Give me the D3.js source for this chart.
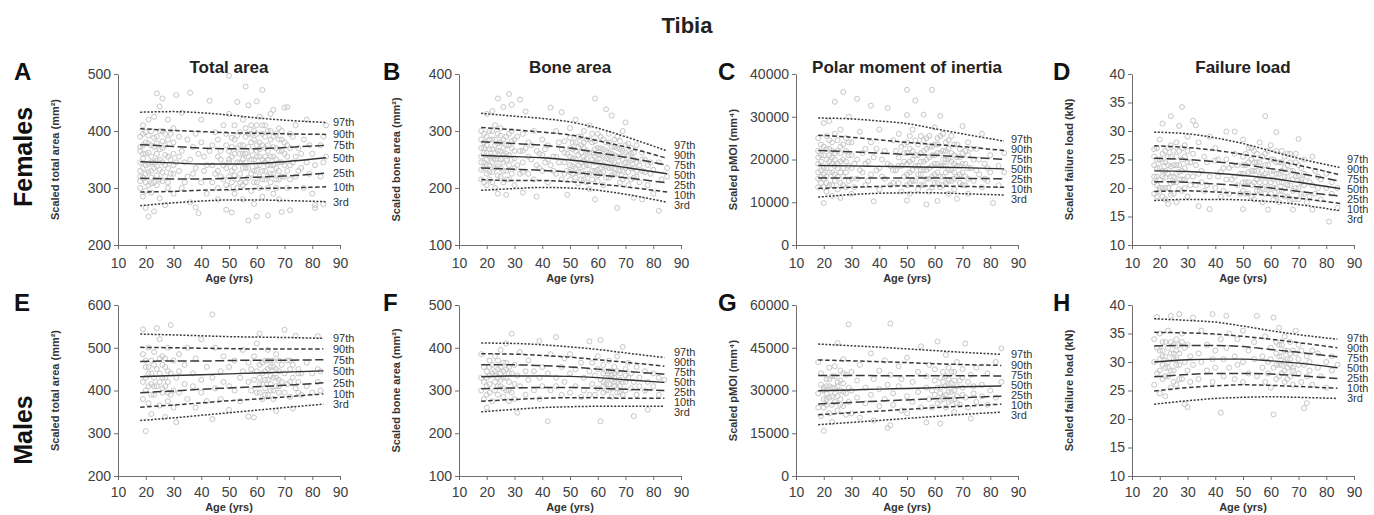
<!DOCTYPE html>
<html>
<head>
<meta charset="utf-8">
<script src="https://cdn.jsdelivr.net/npm/d3@7"></script>
<style>
body { margin: 0; background: #fff; }
svg { display: block; font-family: "Liberation Sans", Arial, sans-serif; }
</style>
</head>
<body>
<svg id="chart" width="1374" height="515"></svg>
<script>
const ageTop = [18, 30, 40, 50, 60, 70, 85];
const ageBottom = [18, 30, 40, 50, 60, 70, 84];
const ageTicks = [10, 20, 30, 40, 50, 60, 70, 80, 90];
const pctLabels = ["97th", "90th", "75th", "50th", "25th", "10th", "3rd"];

// percentile curves (97th .. 3rd)
const femTotalPct = [
  [433, 434, 432, 428, 423, 419, 415],
  [404, 401, 399, 397, 396, 395, 394],
  [376, 373, 370, 369, 369, 371, 375],
  [346, 344, 342, 342, 343, 346, 353],
  [317, 316, 316, 317, 319, 321, 326],
  [293, 294, 296, 297, 299, 300, 302],
  [269, 274, 277, 279, 279, 278, 276]
];
const femBonePct = [
  [331, 326, 322, 316, 305, 290, 265],
  [306, 302, 298, 293, 283, 272, 252],
  [281, 278, 275, 270, 262, 254, 240],
  [257, 255, 253, 249, 243, 236, 225],
  [235, 233, 231, 228, 223, 218, 209],
  [215, 213, 213, 211, 207, 202, 193],
  [196, 199, 201, 200, 196, 189, 175]
];
const femPmoiPct = [
  [29700, 29500, 29000, 28400, 27200, 26000, 24300],
  [25700, 25200, 24600, 24000, 23500, 23000, 22100],
  [22100, 21800, 21500, 21200, 21000, 20600, 20000],
  [18600, 18500, 18400, 18300, 18200, 18100, 17800],
  [15700, 15700, 15700, 15700, 15700, 15600, 15500],
  [13250, 13500, 13700, 13800, 13800, 13700, 13500],
  [11200, 11800, 12100, 12200, 12200, 12000, 11700]
];
const femLoadPct = [
  [29.8, 29.5, 28.8, 27.8, 26.5, 25.2, 23.6],
  [27.4, 27.1, 26.6, 25.9, 25.0, 24.0, 22.3],
  [25.2, 25.0, 24.6, 24.1, 23.4, 22.6, 21.2],
  [23.0, 22.9, 22.6, 22.2, 21.7, 21.0, 19.9],
  [21.1, 21.0, 20.7, 20.4, 20.0, 19.4, 18.6],
  [19.4, 19.5, 19.3, 19.0, 18.7, 18.2, 17.3],
  [17.8, 18.0, 18.0, 17.9, 17.6, 17.1, 16.0]
];
const maleTotalPct = [
  [532, 530, 528, 526, 525, 524, 522],
  [501, 500, 499, 498, 497, 497, 497],
  [468, 469, 469, 470, 471, 471, 472],
  [432, 435, 437, 439, 441, 443, 446],
  [395, 399, 403, 406, 409, 412, 418],
  [361, 366, 371, 376, 380, 385, 392],
  [330, 336, 342, 348, 354, 360, 368]
];
const maleBonePct = [
  [411, 410, 407, 402, 396, 388, 377],
  [386, 385, 382, 378, 372, 366, 357],
  [360, 360, 358, 355, 350, 345, 338],
  [332, 334, 334, 333, 330, 325, 319],
  [304, 306, 307, 307, 305, 303, 300],
  [275, 279, 282, 283, 283, 282, 282],
  [250, 256, 260, 262, 263, 263, 263]
];
const malePmoiPct = [
  [46300, 45700, 45200, 44600, 44000, 43400, 42700],
  [40700, 40400, 40100, 39800, 39400, 39100, 38800],
  [35300, 35300, 35200, 35200, 35200, 35200, 35100],
  [29900, 30200, 30500, 30700, 31000, 31300, 31600],
  [25300, 25800, 26300, 26700, 27100, 27500, 28000],
  [21500, 22200, 22800, 23400, 24000, 24500, 25200],
  [18000, 18800, 19500, 20200, 20900, 21600, 22400]
];
const maleLoadPct = [
  [37.6, 37.3, 37.0, 36.3, 35.5, 34.8, 34.0],
  [35.2, 35.1, 34.9, 34.5, 34.0, 33.4, 32.5],
  [32.8, 32.9, 32.9, 32.7, 32.2, 31.7, 30.9],
  [30.0, 30.4, 30.5, 30.5, 30.2, 29.8, 29.0],
  [27.4, 27.8, 28.0, 28.0, 27.9, 27.6, 27.1],
  [24.9, 25.5, 25.8, 26.0, 25.9, 25.7, 25.4],
  [22.6, 23.2, 23.6, 23.8, 23.9, 23.8, 23.6]
];

// individual subjects, grouped by age: [age, [values]]
const femTotalPts = [
  [18,[390,345,320,300,365]],[19,[410,335,285,375,352]],[20,[265,325,398,360,310]],[21,[250,342,420,305,378]],
  [22,[355,330,292,400,318]],[23,[259,372,345,425]],[24,[466,338,305,360,390]],[25,[443,315,350,282]],
  [26,[457,370,328,400]],[27,[270,395,340]],[28,[355,310,420]],[30,[380,325,290,405]],[31,[463,345]],
  [33,[365,300,432]],[35,[320,385]],[36,[467,350,275]],[38,[266,395,335]],[39,[256,360]],[40,[380,310,420]],
  [42,[340,290]],[43,[453,365]],[45,[325,398]],[46,[300,355,280]],[48,[340,410,315]],[49,[262,375]],
  [50,[497,350,300,430]],[51,[257,330,388]],[52,[360,290,410]],[53,[451,315,345]],[54,[375,325,398]],
  [55,[280,350,420,305]],[56,[478,360,335,390]],[57,[243,445,318,372]],[58,[395,350,295,410]],[59,[330,385,272]],
  [60,[250,452,365,340,410,310]],[61,[380,300,355,425]],[62,[472,330,395,285]],[63,[345,370,410,315]],
  [64,[252,365,340,400,300]],[65,[385,325,355,430]],[66,[437,340,290,372]],[67,[350,395,315]],
  [68,[330,365,280,405]],[69,[258,345,385]],[70,[441,320,360]],[71,[442,300,375]],[72,[261,340,395]],
  [74,[355,320,410]],[75,[330,370]],[77,[385,300]],[78,[345,420]],[80,[290,360]],[81,[265,270,340]],
  [83,[375,320]],[84,[272,390,345]],[85,[410,355]],
  [18,[330,372,312]],[19,[360,318,395]],[20,[340,380,295]],[21,[328,362,392]],[22,[345,375,308]],
  [23,[335,310,388]],[24,[322,348,378]],[25,[368,332,400]],[26,[312,345,382]],[27,[358,320,375]],
  [28,[335,385,300]],[29,[350,325,395]],[30,[360,340]],[32,[330,355,390]],[34,[345,310]],[37,[372,325]],
  [41,[355,330]],[44,[340,310,375]],[46,[330,385]],[47,[350,320,365]],[49,[335,305,395]],[50,[320,365,345]],
  [51,[355,310,372]],[52,[335,385,322]],[53,[370,300,392]],[54,[345,310,360]],[55,[335,375,360]],
  [56,[310,345,405]],[57,[335,355,395]],[58,[325,365,380]],[59,[350,310,400]],[60,[330,375,355,395]],
  [61,[340,320,368]],[62,[350,375,315,410]],[63,[330,355,390]],[64,[320,375,350]],[65,[340,310,400]],
  [66,[355,325,390]],[67,[335,370,300]],[68,[345,385,315]],[69,[320,365,400]],[70,[340,380]],[71,[330,355]],
  [72,[315,370]],[73,[345,390]],[76,[335,360]],[79,[325,375]]
];
const femBonePts = [
  [18,[300,255,232,270]],[19,[280,210,245,262]],[20,[330,225,290,250,205]],[21,[268,240,300,215]],
  [22,[335,255,228,285]],[23,[275,200,250,310]],[24,[357,190,265,238,295]],[25,[280,220,305,250]],
  [26,[342,245,270,210]],[27,[188,290,260,230]],[28,[365,275,215]],[29,[346,300,250]],[30,[235,285,205]],
  [32,[355,265,225]],[33,[192,295,245]],[34,[334,270]],[35,[225,280,255]],[37,[300,215]],[38,[185,265,240]],
  [40,[285,230,258]],[42,[250,210,275]],[43,[341,240]],[45,[300,255,225]],[47,[333,268,215]],[48,[245,282]],
  [49,[188,260,230]],[50,[305,240,270,215]],[51,[280,252,225]],[52,[320,235,265]],[53,[258,208,290]],
  [54,[275,245,228]],[55,[300,255,215,270]],[56,[240,285,225]],[57,[310,262,198]],[58,[250,280,230]],
  [59,[357,180,245,268]],[60,[295,232,258,212]],[61,[270,245,225]],[62,[285,205,255]],[63,[338,238,265]],
  [64,[250,218,280]],[65,[327,235,260]],[66,[272,225,245]],[67,[165,255,290]],[68,[240,210,268]],
  [69,[300,230,250]],[70,[315,220,262]],[71,[245,205,278]],[72,[235,260]],[73,[183,250,218]],[74,[275,230]],
  [75,[240,210]],[76,[180,262]],[77,[228,250]],[78,[205,240]],[80,[190,232]],[82,[160,245]],[83,[215]],[85,[220,235]],
  [18,[245,285,215]],[19,[295,235,270]],[20,[240,275,262]],[21,[255,228,285]],[22,[245,268,210,300]],
  [23,[235,262,285]],[24,[250,222,278]],[25,[265,235,292]],[26,[230,258,285]],[27,[248,275,215]],
  [28,[240,258,295]],[29,[225,270,282]],[30,[252,265]],[31,[240,290]],[33,[265,228]],[36,[250,275]],
  [39,[260,235]],[41,[268,245]],[44,[255,230]],[46,[245,280]],[48,[262,225]],[50,[255,228,288]],
  [51,[238,268]],[52,[250,218,280]],[53,[240,272,228]],[54,[262,215,290]],[55,[238,280,248]],
  [56,[265,210,252]],[57,[240,285,225]],[58,[262,215,295]],[59,[255,230,282]],[60,[245,270,222]],
  [61,[258,235,290]],[62,[240,268,228]],[63,[252,218,280]],[64,[235,262,295]],[65,[248,222,272]],
  [66,[258,235,285]],[67,[240,225,270]],[68,[255,230,282]],[69,[215,265]],[70,[245,235,275]],[71,[228,258]],
  [72,[215,248,270]],[73,[235,262]],[74,[245,220]],[76,[230,250]],[79,[225,245]]
];
const femPmoiPts = [
  [18,[25000,19000,15500,22000]],[19,[21000,14500,17500]],[20,[9800,23000,18000,13500,28500]],
  [21,[20000,16000,25500,12500]],[22,[29000,19500,14000,22500]],[23,[17000,24000,11500,20500]],
  [24,[33500,18500,26000,15000]],[25,[22000,13000,19000]],[26,[11000,27000,17000,21500]],[27,[35800,16000,23500]],
  [28,[19500,13500,25000]],[29,[21000,15000,30000]],[30,[18000,24000,12000]],[32,[34200,20000,15500]],
  [33,[26500,17500]],[35,[22500,14000,19000]],[37,[32600,16500,24000]],[38,[10200,20500]],[40,[27000,18000,13000]],
  [42,[22000,15500]],[43,[32000,19000]],[45,[24500,14500,17500]],[47,[20500,26000]],[48,[12500,18500,23000]],
  [49,[16000,21500]],[50,[36300,30400,10400,19000,14000,24000]],[51,[17000,22500,12000]],[52,[20000,27000,15000]],
  [53,[33800,18500,24500]],[54,[13000,21000,16500]],[55,[25500,19500,14000]],[56,[30500,17500,22000]],
  [57,[9500,20000,25000,15500]],[58,[18000,23000,12500]],[59,[36300,21000,16000]],[60,[27500,19000,14500,23500]],
  [61,[10300,17000,21500,25000]],[62,[30200,18500,13500]],[63,[22000,16000,26000]],[64,[20000,14500,24000]],
  [65,[17500,22500,12000]],[66,[19500,25500,15000]],[67,[21000,13000,17000]],[68,[10800,23500,18500]],
  [69,[16500,20500]],[70,[27800,14000,19000]],[71,[22000,16000]],[72,[12000,18000,24000]],[74,[20000,15000]],
  [75,[17500,22500]],[77,[26000,13500]],[78,[19000,15500]],[80,[21000,17000]],[81,[9800]],[83,[18500,14000]],
  [85,[21500,17000]],
  [18,[17000,20500,13500]],[19,[23500,16000,19500]],[20,[15500,21000,16500]],[21,[18000,22500,14500]],
  [22,[17000,21000,24500]],[23,[14000,19000,22000]],[24,[16500,21500,20000]],[25,[16000,24500,18000]],
  [26,[14500,19500,23000]],[27,[20000,18000,14000]],[28,[17000,22000]],[29,[18500,24000]],[30,[15500,21000]],
  [31,[19000,13500]],[34,[17000,21500]],[36,[19500,15000]],[39,[17500,22500]],[41,[16000,20000]],
  [44,[18500,14000]],[46,[17500,22000]],[47,[14500,18500]],[49,[19500,23500]],[50,[16500,21500]],
  [51,[19500,14500,25500]],[52,[17500,22000]],[53,[15000,21000]],[54,[18500,23500]],[55,[16500,21500,17500]],
  [56,[14000,19500,24500]],[57,[17500,22500]],[58,[15500,20500,25500]],[59,[18500,13500,23000]],
  [60,[16500,21000]],[61,[19000,14500,23500]],[62,[16000,21500,25500]],[63,[18500,14000,20000]],
  [64,[17000,22000,18500]],[65,[15000,20000,24500]],[66,[17500,21500]],[67,[19000,15500,23500]],
  [68,[16000,20500]],[69,[18500,14500,22500]],[70,[17000,21500]],[71,[19000,14000]],[72,[15500,21000]],
  [73,[18000,22500]],[76,[16500,20000]],[79,[18000,15000]]
];
const femLoadPts = [
  [18,[26.8,22.0,19.0,24.0]],[19,[23.5,20.5,18.5]],[20,[28.5,21.5,25.0,19.5]],[21,[31.3,23.0,20.0,26.0]],
  [22,[24.5,18.0,21.8]],[23,[17.2,27.0,22.5]],[24,[32.6,25.5,20.8,23.8]],[25,[22.0,19.0,26.5]],
  [26,[17.5,28.0,24.0,21.0]],[27,[30.9,22.8,19.8]],[28,[34.2,25.0,21.5]],[29,[27.5,20.0,23.5]],
  [30,[29.0,24.5,18.5]],[32,[31.8,22.0,26.0]],[33,[31.0,20.5,24.0]],[34,[16.8,28.0,22.5]],[36,[25.5,19.5]],
  [38,[16.3,29.0,22.0]],[40,[24.8,20.0,27.0]],[42,[22.8,18.5]],[44,[29.9,21.5,25.0]],[45,[23.5,19.0]],
  [47,[29.9,22.0,26.0]],[48,[20.5,24.0]],[50,[16.3,28.5,22.5,19.5,25.5]],[51,[21.0,24.0]],[52,[27.0,19.0,22.8]],
  [53,[25.0,20.5]],[54,[23.0,18.0,26.5]],[55,[21.5,24.5]],[56,[28.0,19.5,22.0]],[57,[25.5,17.5,23.0]],
  [58,[32.6,21.0,24.0]],[59,[16.2,26.5,20.0]],[60,[23.0,19.0,27.5]],[61,[21.5,25.0,18.0]],[62,[29.8,22.5,20.0]],
  [63,[24.5,17.5,21.0]],[64,[26.5,19.5,23.0]],[65,[22.0,18.5,25.5]],[66,[20.5,24.0]],[67,[23.0,17.8,26.0]],
  [68,[16.2,21.5,19.5]],[69,[24.5,22.0]],[70,[28.6,20.0,18.0]],[71,[23.5,21.0]],[72,[19.0,25.0]],
  [73,[22.0,17.5]],[75,[16.2,25.5,20.5]],[76,[23.0,19.0]],[78,[21.5,18.0]],[80,[20.0,22.5]],[81,[14.1]],
  [82,[19.0,21.0]],[84,[16.5,20.0]],
  [18,[21.0,25.5]],[19,[25.0,22.0,27.0]],[20,[23.5,20.0]],[21,[22.0,24.5,18.5]],[22,[26.5,20.0,23.0]],
  [23,[24.0,20.0,25.5]],[24,[22.0,18.8,27.5]],[25,[24.0,21.0]],[26,[22.5,25.5]],[27,[21.5,26.5,24.0]],
  [28,[23.0,19.5,27.0]],[29,[21.5,25.5]],[30,[22.0,26.5]],[31,[20.5,24.5]],[35,[23.0,21.0]],[37,[24.5,20.5]],
  [41,[22.0,25.0]],[43,[19.5,23.5]],[46,[21.5,24.0]],[49,[22.5,19.0]],[50,[21.0,24.0]],[51,[26.0,19.0]],
  [52,[21.0,24.5]],[53,[23.0,18.5,27.0]],[54,[21.0,24.5]],[55,[19.5,23.0,26.0]],[56,[21.0,24.5]],
  [57,[20.0,22.0]],[58,[19.0,22.5,26.0]],[59,[22.0,24.0]],[60,[21.0,25.0]],[61,[23.0,20.0]],
  [62,[18.5,24.5,26.5]],[63,[22.5,19.5]],[64,[21.0,24.5]],[65,[20.0,23.5]],[66,[18.5,22.0,26.0]],
  [67,[20.5,24.5]],[68,[23.0,18.0]],[69,[20.0,26.0]],[70,[22.0,24.0]],[71,[19.0,21.5]],[72,[22.5,20.5]],
  [74,[21.0,18.5]],[77,[20.0,22.0]]
];
const maleTotalPts = [
  [19,[543,420,485,380]],[20,[305,455,400]],[21,[440,370,500]],[22,[470,415,345]],[23,[430,390,490]],
  [24,[546,450,410]],[25,[475,365,520]],[26,[430,395,480]],[27,[338,455,410]],[28,[500,420,375]],
  [29,[553,440,390]],[30,[470,400,360]],[31,[326,430]],[32,[485,445,395]],[34,[415,460]],[35,[380,500]],
  [37,[440,410]],[38,[475,360]],[40,[425,395,520]],[42,[455,375]],[44,[578,333,430]],[45,[500,405]],
  [47,[445,380]],[48,[480,420]],[50,[410,455,355]],[52,[470,400]],[54,[430,375]],[55,[495,445]],
  [57,[339,420,465]],[58,[400,450]],[59,[337,480,425]],[60,[445,395,510]],[61,[533,415,460]],[62,[380,440]],
  [63,[470,405,425]],[64,[450,390,495]],[65,[415,435,470]],[66,[400,455,380]],[67,[352,485,430]],
  [68,[445,410,470]],[69,[420,460]],[70,[542,395,440]],[71,[470,415]],[72,[450,385]],[73,[358,430,460]],
  [74,[528,405]],[75,[450,420]],[76,[440,390]],[78,[465,410]],[80,[395,440]],[82,[527,420,450]],[83,[400,445]],
  [20,[430,470]],[21,[410,455]],[22,[390,440]],[23,[460,410]],[25,[440,420]],[26,[460,405]],[27,[475,430]],
  [28,[445,395]],[61,[430,395]],[62,[465,415]],[63,[445,390]],[64,[425,470]],[65,[400,455]],[66,[430,470]],
  [67,[410,450]],[68,[425,395]],[72,[470,420]],[75,[440,395]]
];
const maleBonePts = [
  [18,[385,330,300]],[19,[355,280,320]],[20,[310,260,345]],[21,[370,295,335]],[22,[340,275,360]],
  [23,[320,380,300]],[24,[350,290,330]],[25,[395,340,310]],[26,[365,285,345]],[27,[330,300,410]],
  [28,[355,275,320]],[29,[433,340,295]],[30,[315,360,280]],[31,[248,335]],[32,[390,310]],[34,[345,290]],
  [35,[325,370]],[37,[300,345]],[39,[416,330,280]],[40,[355,310]],[42,[228,340]],[43,[385,300]],
  [45,[425,330,310]],[47,[355,290]],[48,[320,375]],[50,[340,295,385]],[52,[310,350]],[54,[365,285]],
  [55,[330,300]],[57,[415,345,290]],[58,[315,365]],[59,[290,335]],[60,[350,305,380]],[61,[418,228,325]],
  [62,[340,295,360]],[63,[315,345]],[64,[300,330,370]],[65,[325,345,285]],[66,[355,310,330]],
  [67,[320,295,380]],[68,[340,310]],[69,[402,320,290]],[70,[350,300]],[71,[330,365]],[72,[305,340]],
  [73,[240,320]],[74,[355,290]],[75,[330,310]],[77,[345,300]],[78,[255,320]],[80,[310,340]],[82,[330,290]],[84,[325]],
  [20,[330,290]],[21,[315,355]],[23,[345,335]],[24,[370,310]],[25,[325,355]],[26,[305,330]],[27,[350,365]],
  [28,[300,340]],[62,[320,310]],[63,[330,300]],[64,[345,315]],[65,[305,335]],[66,[320,340]],[67,[305,345]],
  [68,[325,295]],[70,[320,335]]
];
const malePmoiPts = [
  [18,[29000,40000,24000]],[19,[32000,21000,36000]],[20,[15800,27000,31000]],[21,[34000,25000,29000]],
  [22,[38000,22000,31500]],[23,[28000,35000,19000]],[24,[31000,26000,38500]],[25,[46700,33000,23000]],
  [26,[30000,37000,27000]],[27,[24500,32500,41000]],[28,[29000,35500,21500]],[29,[53200,31000,26000]],
  [30,[36500,22000,30000]],[32,[27500,33500]],[33,[20500,39000]],[35,[31000,25500]],[37,[43000,28500]],
  [38,[19500,34000]],[40,[30500,24500,37000]],[42,[27000,40500]],[43,[16900,32000]],[44,[53500,17800,35500]],
  [45,[29000,25000]],[47,[38500,31500]],[48,[23000,34000]],[50,[41500,28000,22000]],[52,[33000,26000]],
  [54,[36500,29500]],[55,[45500,24000]],[57,[18800,31000,35000]],[58,[27000,39000]],[59,[30000,24000]],
  [60,[33500,28500,37500]],[61,[47200,25500,31000]],[62,[18400,34500,29000]],[63,[27000,36500]],
  [64,[42500,31500,24000]],[65,[29500,34000,38000]],[66,[26500,32500]],[67,[36500,22500,30000]],
  [68,[28000,40000]],[69,[33500,25000]],[70,[31000,37500]],[71,[46500,27500]],[72,[33000,24000]],
  [73,[20200,35500]],[74,[29000,31500]],[75,[38000,26000]],[77,[32000,28000]],[79,[36000,25000]],
  [80,[30000]],[82,[40000,27500]],[84,[44800,33000]],
  [20,[30000,24000]],[21,[31500,27000]],[22,[27500,34000]],[23,[31000,25000]],[24,[29000,35000]],
  [25,[28000,31500]],[26,[33500,25000]],[27,[29500,36000]],[62,[31000,26500]],[63,[33000,28000]],
  [64,[28500,35000]],[65,[32000,26000]],[66,[29500,36500]],[67,[27000,33500]],[68,[31500,25500]],[70,[28500,34500]]
];
const maleLoadPts = [
  [18,[34.0,30.0,26.0]],[19,[37.9,28.0,32.5]],[20,[30.5,24.5,35.0]],[21,[32.0,27.0,29.5]],[22,[33.5,24.0,31.0]],
  [23,[30.0,35.5,27.5]],[24,[38.1,31.5,25.5]],[25,[33.0,28.5,30.5]],[26,[34.0,26.0,32.0]],[27,[38.4,29.5,31.5]],
  [28,[33.5,27.0,35.0]],[29,[22.6,30.0,32.5]],[30,[22.1,28.5,33.0]],[31,[31.0,26.5]],[32,[37.8,29.5]],
  [34,[31.5,27.0]],[35,[35.5,30.0]],[37,[28.5,33.0]],[39,[38.4,30.5,26.5]],[40,[32.0,29.0]],[42,[21.1,34.0]],
  [43,[30.5,27.5]],[44,[38.1,32.5]],[45,[29.0,35.0]],[47,[31.0,27.0]],[48,[34.0,29.5]],[50,[30.0,26.5,35.5]],
  [52,[32.0,28.0]],[54,[30.5,33.5]],[55,[38.1,27.5]],[57,[31.0,29.0]],[58,[34.5,26.5]],[59,[30.0,28.0]],
  [60,[32.5,25.5,30.5]],[61,[20.8,37.8,29.0]],[62,[31.5,27.0]],[63,[33.0,29.5,36.0]],[64,[28.0,31.0]],
  [65,[34.5,26.5,30.0]],[66,[29.0,32.0]],[67,[27.5,33.5,30.5]],[68,[29.0,26.0]],[69,[31.5,35.5]],
  [70,[28.0,30.5]],[71,[32.0,26.5]],[72,[21.9,29.5]],[73,[22.8,31.0,27.5]],[74,[30.0,28.5]],[75,[32.0,26.0]],
  [77,[29.0,31.5]],[78,[27.5]],[80,[30.0,25.5]],[82,[31.0,28.5]],[84,[29.5]],
  [20,[28.5,32.0]],[21,[31.0,33.5]],[22,[29.0,27.5]],[23,[32.5,29.0]],[24,[28.5,33.5]],[25,[31.5,26.5]],
  [26,[29.5,30.5]],[27,[33.0,27.0]],[62,[29.5,33.5]],[63,[31.0,27.5]],[64,[29.5,33.0]],[65,[28.5,32.0]],
  [66,[30.5,27.0]],[67,[29.5,31.5]],[68,[32.0,28.5]],[70,[29.5,33.0]]
];

const yTicksTotalF = [200, 300, 400, 500];
const yTicksBoneF = [100, 200, 300, 400];
const yTicksPmoiF = [0, 10000, 20000, 30000, 40000];
const yTicksLoad = [10, 15, 20, 25, 30, 35, 40];
const yTicksTotalM = [200, 300, 400, 500, 600];
const yTicksBoneM = [100, 200, 300, 400, 500];
const yTicksPmoiM = [0, 15000, 30000, 45000, 60000];

const colTitles = ["Total area", "Bone area", "Polar moment of inertia", "Failure load"];
const yLabels = ["Scaled total area (mm²)", "Scaled bone area (mm²)", "Scaled pMOI (mm⁴)", "Scaled failure load (kN)"];

const panels = [
  { letter: "A", row: 0, col: 0, pct: femTotalPct, pts: femTotalPts, ticks: yTicksTotalF },
  { letter: "B", row: 0, col: 1, pct: femBonePct, pts: femBonePts, ticks: yTicksBoneF },
  { letter: "C", row: 0, col: 2, pct: femPmoiPct, pts: femPmoiPts, ticks: yTicksPmoiF },
  { letter: "D", row: 0, col: 3, pct: femLoadPct, pts: femLoadPts, ticks: yTicksLoad },
  { letter: "E", row: 1, col: 0, pct: maleTotalPct, pts: maleTotalPts, ticks: yTicksTotalM },
  { letter: "F", row: 1, col: 1, pct: maleBonePct, pts: maleBonePts, ticks: yTicksBoneM },
  { letter: "G", row: 1, col: 2, pct: malePmoiPct, pts: malePmoiPts, ticks: yTicksPmoiM },
  { letter: "H", row: 1, col: 3, pct: maleLoadPct, pts: maleLoadPts, ticks: yTicksLoad }
];

// layout
const colX = [118, 459, 796, 1132];
const letterX = [14, 383, 718, 1053];
const rowY = [74, 305];
const tickPad = [9, 7];
const ageLabelDy = [37, 35];
const plotW = 222, plotH = 171;
const dashes = ["2,1.6", "4.5,2.5", "9,3.5", null, "9,3.5", "4.5,2.5", "2,1.6"];
const axisColor = "#6e6e6e", textColor = "#404040";

const svg = d3.select("#chart");

svg.append("text").attr("x", 687).attr("y", 33).attr("text-anchor", "middle")
  .attr("font-size", 22).attr("font-weight", "bold").attr("fill", "#222").text("Tibia");

[["Females", 157], ["Males", 430]].forEach(function (d) {
  svg.append("text").attr("transform", "translate(23," + d[1] + ") rotate(-90)")
    .attr("text-anchor", "middle").attr("dominant-baseline", "central")
    .attr("font-size", 25).attr("font-weight", "bold").attr("fill", "#111").text(d[0]);
});

// stack percentile labels so they don't overlap
function spreadLabels(targets, gap) {
  let groups = targets.map(function (t) { return { n: 1, sum: t }; });
  const top = function (g) { return g.sum / g.n - (g.n - 1) * gap / 2; };
  let merged = true;
  while (merged) {
    merged = false;
    for (let i = 0; i < groups.length - 1; i++) {
      const a = groups[i], b = groups[i + 1];
      if (top(b) - (top(a) + (a.n - 1) * gap) < gap) {
        groups.splice(i, 2, { n: a.n + b.n, sum: a.sum + b.sum });
        merged = true;
        break;
      }
    }
  }
  const out = [];
  groups.forEach(function (g) {
    for (let k = 0; k < g.n; k++) out.push(top(g) + k * gap);
  });
  return out;
}

panels.forEach(function (p) {
  const ages = p.row === 0 ? ageTop : ageBottom;
  const x0 = colX[p.col], y0 = rowY[p.row];
  const g = svg.append("g").attr("transform", "translate(" + x0 + "," + y0 + ")");

  const x = d3.scaleLinear().domain([10, 90]).range([0, plotW]);
  const y = d3.scaleLinear().domain(d3.extent(p.ticks)).range([plotH, 0]);

  // subjects
  const flat = [];
  p.pts.forEach(function (d) { d[1].forEach(function (v) { flat.push([d[0], v]); }); });
  g.append("g").selectAll("circle").data(flat).enter().append("circle")
    .attr("cx", d => x(d[0])).attr("cy", d => y(d[1])).attr("r", 2.5)
    .attr("fill", "none").attr("stroke", "#c6c6c6").attr("stroke-width", 1);

  // percentile curves
  const line = d3.line().x(d => x(d[0])).y(d => y(d[1])).curve(d3.curveMonotoneX);
  p.pct.forEach(function (vals, i) {
    g.append("path").datum(ages.map((a, k) => [a, vals[k]]))
      .attr("d", line).attr("fill", "none")
      .attr("stroke", i === 3 ? "#333" : "#3a3a3a")
      .attr("stroke-width", i === 3 ? 1.4 : 1.5)
      .attr("stroke-dasharray", dashes[i]);
  });

  const ends = p.pct.map(vals => y(vals[vals.length - 1]));
  const labelY = spreadLabels(ends, 10);
  pctLabels.forEach(function (t, i) {
    g.append("text").attr("x", 215).attr("y", labelY[i]).attr("dy", "0.35em")
      .attr("font-size", 11).attr("fill", "#333").text(t);
  });

  // axes
  const xAxis = g.append("g").attr("transform", "translate(0," + plotH + ")")
    .call(d3.axisBottom(x).tickValues(ageTicks).tickSize(4).tickSizeOuter(0).tickPadding(tickPad[p.row]));
  const yAxis = g.append("g")
    .call(d3.axisLeft(y).tickValues(p.ticks).tickFormat(d3.format("d"))
      .tickSize(4).tickSizeOuter(0).tickPadding(3));
  [xAxis, yAxis].forEach(function (ax) {
    ax.select(".domain").attr("stroke", axisColor);
    ax.selectAll(".tick line").attr("stroke", axisColor);
    ax.selectAll(".tick text").attr("fill", textColor).attr("font-size", 14)
      .attr("font-family", "'Liberation Sans', Arial, sans-serif");
  });

  g.append("text").attr("x", plotW / 2).attr("y", plotH + ageLabelDy[p.row]).attr("text-anchor", "middle")
    .attr("font-size", 11).attr("font-weight", "bold").attr("fill", "#333").text("Age (yrs)");

  g.append("text").attr("transform", "translate(-63," + (plotH / 2) + ") rotate(-90)")
    .attr("text-anchor", "middle").attr("dominant-baseline", "central")
    .attr("font-size", 11).attr("font-weight", "bold").attr("fill", "#333").text(yLabels[p.col]);

  svg.append("text").attr("x", letterX[p.col]).attr("y", y0 + 6)
    .attr("font-size", 24).attr("font-weight", "bold").attr("fill", "#111").text(p.letter);

  if (p.row === 0) {
    svg.append("text").attr("x", x0 + plotW / 2).attr("y", y0 - 1).attr("text-anchor", "middle")
      .attr("font-size", 17).attr("font-weight", "bold").attr("fill", "#222").text(colTitles[p.col]);
  }
});
</script>
</body>
</html>
